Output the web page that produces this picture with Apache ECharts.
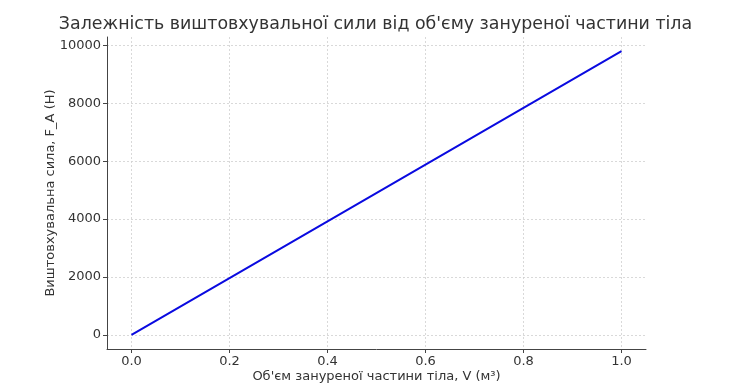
<!DOCTYPE html>
<html>
<head>
<meta charset="utf-8">
<script src="https://cdn.jsdelivr.net/npm/echarts@6/dist/echarts.min.js"></script>
<style>
html,body{margin:0;padding:0;background:#fff;}
#chart{width:751px;height:390px;}
</style>
</head>
<body>
<div id="chart"></div>
<script>
const titleText = "Залежність виштовхувальної сили від об'єму зануреної частини тіла";
const xName = "Об'єм зануреної частини тіла, V (м³)";
const yName = "Виштовхувальна сила, F_A (Н)";
const volumes = [0.0, 0.2, 0.4, 0.6, 0.8, 1.0];
const forces = [0, 1960, 3920, 5880, 7840, 9800];
const xTicks = [0.0, 0.2, 0.4, 0.6, 0.8, 1.0];
const yTicks = [0, 2000, 4000, 6000, 8000, 10000];

const font = "DejaVu Sans";
const chart = echarts.init(document.getElementById('chart'), null, {renderer: 'canvas'});
chart.setOption({
  animation: false,
  backgroundColor: '#fff',
  title: {
    text: titleText,
    left: 'center',
    top: 11,
    textStyle: {fontFamily: font, fontSize: 17.4, fontWeight: 'normal', color: '#333'}
  },
  grid: {left: 107, right: 105, top: 37, bottom: 41, containLabel: false},
  xAxis: {
    type: 'value',
    min: -0.05, max: 1.05,
    name: xName,
    nameLocation: 'middle',
    nameGap: 21,
    nameMoveOverlap: false,
    nameTextStyle: {fontFamily: font, fontSize: 13, color: '#333'},
    axisLine: {show: true, onZero: false, lineStyle: {color: '#444', width: 1}},
    axisTick: {show: true, inside: false, length: 4, customValues: xTicks, lineStyle: {color: '#444'}},
    axisLabel: {customValues: xTicks, margin: 6, fontFamily: font, fontSize: 13, color: '#333',
      formatter: v => v.toFixed(1)},
    splitLine: {show: true, lineStyle: {color: '#d0d0d0', type: [2, 2], width: 0.8}}
  },
  yAxis: {
    type: 'value',
    min: -490, max: 10290,
    name: yName,
    nameLocation: 'middle',
    nameGap: 50,
    nameMoveOverlap: false,
    nameTextStyle: {fontFamily: font, fontSize: 13, color: '#333'},
    axisLine: {show: true, onZero: false, lineStyle: {color: '#444', width: 1}},
    axisTick: {show: true, inside: false, length: 4, customValues: yTicks, lineStyle: {color: '#444'}},
    axisLabel: {customValues: yTicks, margin: 6, fontFamily: font, fontSize: 13, color: '#333',
      formatter: v => String(v)},
    splitLine: {show: true, lineStyle: {color: '#d0d0d0', type: [2, 2], width: 0.8}}
  },
  series: [{
    type: 'line',
    data: volumes.map((v, i) => [v, forces[i]]),
    showSymbol: false,
    lineStyle: {color: '#0a0ae0', width: 2},
    itemStyle: {color: '#0a0ae0'}
  }]
});
</script>
</body>
</html>
